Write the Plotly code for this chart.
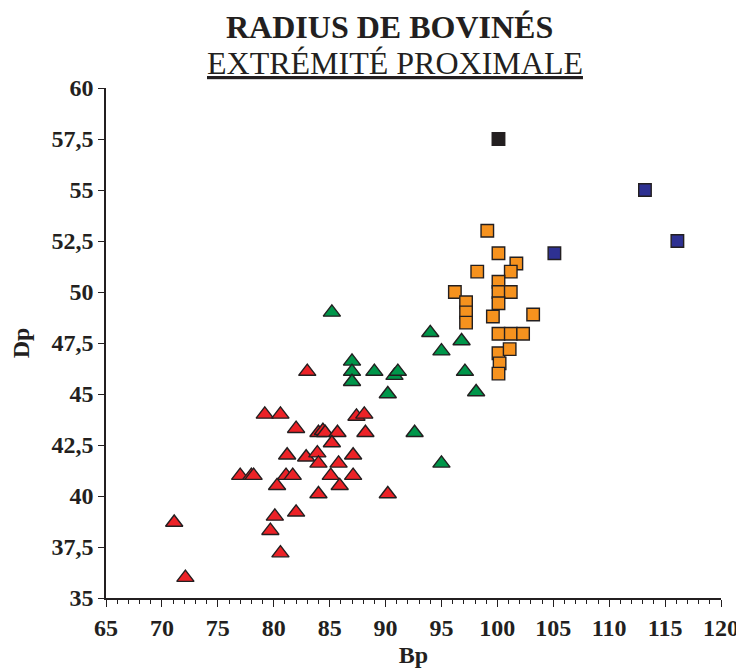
import plotly.graph_objects as go

# Red triangles (Bp, Dp)
red_x = [71.1, 72.1, 77.0, 78.0, 78.2, 79.2, 80.6, 82.0, 87.4, 88.1, 84.0, 84.4, 84.6, 85.7, 88.2,
         85.2, 81.2, 82.9, 83.9, 87.1, 84.0, 85.8, 81.1, 81.7, 85.1, 87.1, 80.3, 85.9, 84.0, 90.2,
         80.1, 82.0, 79.7, 80.6, 83.0]
red_y = [38.7, 36.0, 41.0, 41.0, 41.0, 44.0, 44.0, 43.3, 43.9, 44.0, 43.1, 43.2, 43.1, 43.1, 43.1,
         42.6, 42.0, 41.9, 42.1, 42.0, 41.6, 41.6, 41.0, 41.0, 41.0, 41.0, 40.5, 40.5, 40.1, 40.1,
         39.0, 39.2, 38.3, 37.2, 46.1]

# Green triangles
green_x = [85.2, 94.0, 96.8, 95.0, 87.0, 87.0, 87.0, 89.0, 90.8, 91.1, 97.1, 90.2, 98.1, 92.6, 95.0]
green_y = [49.0, 48.0, 47.6, 47.1, 46.6, 46.1, 45.6, 46.1, 45.9, 46.1, 46.1, 45.0, 45.1, 43.1, 41.6]

# Orange squares
orange_x = [99.1, 100.1, 101.7, 98.2, 101.2, 100.1, 96.2, 100.1, 101.2, 97.2, 100.1, 97.2, 97.2,
            99.6, 103.2, 100.1, 101.2, 102.3, 100.1, 101.1, 100.2, 100.1]
orange_y = [53.0, 51.9, 51.4, 51.0, 51.0, 50.5, 50.0, 50.0, 50.0, 49.5, 49.45, 49.0, 48.5,
            48.8, 48.9, 47.95, 47.95, 47.95, 47.0, 47.2, 46.5, 46.0]

# Blue squares
blue_x = [105.1, 113.2, 116.1]
blue_y = [51.9, 55.0, 52.5]

# Black square
black_x = [100.1]
black_y = [57.5]

y_tickvals = [35, 37.5, 40, 42.5, 45, 47.5, 50, 52.5, 55, 57.5, 60]
y_ticktext = ["35", "37,5", "40", "42,5", "45", "47,5", "50", "52,5", "55", "57,5", "60"]
x_tickvals = [65, 70, 75, 80, 85, 90, 95, 100, 105, 110, 115, 120]
x_ticktext = [str(v) for v in x_tickvals]

OUT = "#231F20"
FONT = "Liberation Serif"

# the page body adds an 8px offset; the figure is laid out to compensate
W, H = 736, 660
L, T, R, B = 98, 80, 23, 70

fig = go.Figure()

def add(xs, ys, sym, color, size):
    fig.add_trace(go.Scatter(
        x=xs, y=ys, mode="markers",
        marker=dict(symbol=sym, size=size, color=color,
                    line=dict(color=OUT, width=1.4)),
        showlegend=False, hoverinfo="x+y"))

add(red_x, red_y, "triangle-up", "#EC2227", 15)
add(green_x, green_y, "triangle-up", "#00964A", 15)
add(orange_x, orange_y, "square", "#F6921E", 12.5)
add(blue_x, blue_y, "square", "#2E3192", 12.5)
add(black_x, black_y, "square", "#231F20", 12.5)

fig.update_layout(
    width=W, height=H,
    margin=dict(l=L, r=R, t=T, b=B),
    paper_bgcolor="white", plot_bgcolor="white",
    font=dict(family=FONT, color="#231F20"),
    xaxis=dict(range=[65, 120], tickvals=x_tickvals, ticktext=["<b>%s</b>" % t for t in x_ticktext],
               automargin=False,
               showgrid=False, zeroline=False, showline=True, linecolor=OUT, linewidth=1.5,
               ticks="outside", ticklen=7, tickwidth=1, tickcolor=OUT,
               minor=dict(dtick=1, tick0=65, ticks="outside", ticklen=4, tickcolor=OUT, showgrid=False),
               tickfont=dict(family=FONT, size=24, color="#231F20"),
               title=dict(text="<b>Bp</b>", font=dict(family=FONT, size=24), standoff=9)),
    yaxis=dict(range=[35, 60], tickvals=y_tickvals, ticktext=["<b>%s</b>" % t for t in y_ticktext],
               automargin=False,
               showgrid=False, zeroline=False, showline=True, linecolor=OUT, linewidth=1.5,
               ticks="outside", ticklen=6, tickwidth=1, tickcolor=OUT,
               tickfont=dict(family=FONT, size=24, color="#231F20"),
               title=dict(text="<b>Dp</b>", font=dict(family=FONT, size=24), standoff=18)),
)

plot_w = W - L - R
plot_h = H - T - B
def px(pix):
    return (pix - 8 - L) / plot_w
def py(pix):
    return (H - B - (pix - 8)) / plot_h

fig.add_annotation(text="<b>RADIUS DE BOVINÉS</b>", x=px(389), y=py(27), xref="paper", yref="paper",
                   showarrow=False, xanchor="center", yanchor="middle",
                   font=dict(family=FONT, size=32, color="#231F20"))
fig.add_annotation(text="<u>EXTRÉMITÉ PROXIMALE</u>", x=px(395), y=py(63), xref="paper", yref="paper",
                   showarrow=False, xanchor="center", yanchor="middle",
                   font=dict(family=FONT, size=32, color="#231F20"))

fig.write_html("out.html")
